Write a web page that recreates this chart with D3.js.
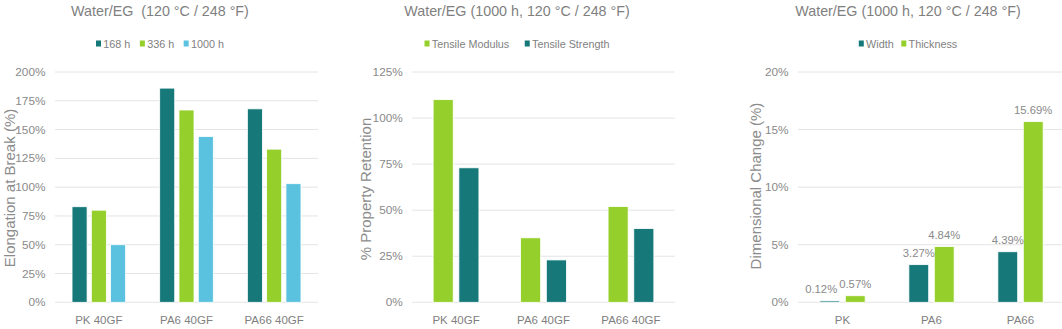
<!DOCTYPE html>
<html>
<head>
<meta charset="utf-8">
<script src="https://cdn.jsdelivr.net/npm/d3@7/dist/d3.min.js"></script>
<style>
  html, body { margin: 0; padding: 0; background: #fff; }
  svg { display: block; font-family: "Liberation Sans", Arial, Helvetica, sans-serif; }
</style>
</head>
<body>
<svg id="chart" width="1062" height="329"></svg>
<script>
// ---- Elongation at break ----
const elongCategories = ["PK 40GF", "PA6 40GF", "PA66 40GF"];
const elongSeries = ["168 h", "336 h", "1000 h"];
const elong168 = [83, 186, 168];
const elong336 = [80, 167, 133];
const elong1000 = [50, 144, 103];
const elongTicks = [0, 25, 50, 75, 100, 125, 150, 175, 200];

// ---- Property retention ----
const retentionCategories = ["PK 40GF", "PA6 40GF", "PA66 40GF"];
const retentionSeries = ["Tensile Modulus", "Tensile Strength"];
const tensileModulus = [110, 35, 52];
const tensileStrength = [73, 23, 40];
const retentionTicks = [0, 25, 50, 75, 100, 125];

// ---- Dimensional change ----
const dimCategories = ["PK", "PA6", "PA66"];
const dimSeries = ["Width", "Thickness"];
const dimWidth = [0.12, 3.27, 4.39];
const dimThickness = [0.57, 4.84, 15.69];
const dimTicks = [0, 5, 10, 15, 20];

const TEAL = "#167878";
const GREEN = "#95cf2b";
const BLUE = "#5ac2de";

const svg = d3.select("#chart");
svg.append("rect").attr("width", 1062).attr("height", 329).attr("fill", "#fff");

function drawPanel(p) {
  const g = svg.append("g");
  const y = d3.scaleLinear().domain(p.domain).range([302.3, 72]);
  const x0 = d3.scaleBand().domain(p.categories).range(p.xRange).padding(0);
  const x1 = d3.scaleBand().domain(p.series).range([0, x0.bandwidth()])
    .paddingInner(0.22).paddingOuter(p.outer);

  // gridlines
  g.selectAll("line.grid").data(p.ticks).join("line")
    .attr("x1", p.xRange[0]).attr("x2", p.xRange[1])
    .attr("y1", d => y(d)).attr("y2", d => y(d))
    .attr("stroke", "#e4e4e4").attr("stroke-width", 1);

  // tick labels
  g.selectAll("text.tick").data(p.ticks).join("text")
    .attr("x", p.xRange[0] - 9.5).attr("y", d => y(d))
    .attr("dy", "0.35em").attr("text-anchor", "end")
    .attr("font-size", 11.8).attr("fill", "#8a8a8a")
    .text(d => d + "%");

  // bars
  const rows = p.categories.map((c, i) => ({
    cat: c,
    vals: p.series.map((s, j) => ({ s, v: p.values[j][i], color: p.colors[j] }))
  }));
  const grp = g.selectAll("g.cat").data(rows).join("g")
    .attr("transform", d => `translate(${x0(d.cat)},0)`);
  grp.selectAll("rect").data(d => d.vals).join("rect")
    .attr("x", d => x1(d.s)).attr("width", x1.bandwidth())
    .attr("y", d => y(d.v)).attr("height", d => y(0) - y(d.v))
    .attr("fill", d => d.color)
    .attr("stroke", "#fff").attr("stroke-width", 0.8);

  // value labels
  if (p.labels) {
    const lab = [];
    rows.forEach(r => r.vals.forEach(v => {
      lab.push({ text: v.v.toFixed(2) + "%", cx: x0(r.cat) + x1(v.s) + x1.bandwidth() / 2, y: y(v.v) - 7.5 });
    }));
    const t = g.selectAll("text.val").data(lab).join("text")
      .attr("font-size", 11.3).attr("fill", "#8a8a8a").attr("text-anchor", "middle")
      .attr("y", d => d.y).text(d => d.text);
    t.each(function (d) { d.w = this.getComputedTextLength(); });
    for (let i = lab.length - 2; i >= 0; i--) {
      const a = lab[i], b = lab[i + 1];
      const overlapX = (a.cx + a.w / 2) - (b.cx - b.w / 2 - 2);
      if (overlapX > 0 && Math.abs(a.y - b.y) < 12) a.cx -= overlapX;
    }
    t.attr("x", d => d.cx);
  }

  // category labels
  g.selectAll("text.cat").data(p.categories).join("text")
    .attr("x", d => x0(d) + x0.bandwidth() / 2).attr("y", 324)
    .attr("text-anchor", "middle").attr("font-size", 11.5).attr("fill", "#7f7f7f")
    .text(d => d);

  // y axis title
  g.append("text")
    .attr("transform", `translate(${p.yTitleX},${p.yTitleY}) rotate(-90)`)
    .attr("text-anchor", "middle").attr("font-size", 15).attr("fill", "#8c8c8c")
    .text(p.yTitle);

  // chart title
  g.append("text").attr("x", p.center).attr("y", 15.5)
    .attr("text-anchor", "middle").attr("font-size", 14.3).attr("fill", "#7f7f7f")
    .style("white-space", "pre").attr("xml:space", "preserve")
    .text(p.title);

  // legend
  const leg = g.append("g");
  let cx = 0;
  p.series.forEach((s, j) => {
    leg.append("rect").attr("x", cx).attr("y", 40.5).attr("width", 5).attr("height", 6)
      .attr("fill", p.colors[j]);
    const tx = leg.append("text").attr("x", cx + 7.3).attr("y", 47.8)
      .attr("font-size", 10.8).attr("fill", "#7f7f7f").text(s);
    cx += 7.3 + tx.node().getComputedTextLength() + p.legendGap;
  });
  const total = cx - p.legendGap;
  leg.attr("transform", `translate(${p.center - total / 2},0)`);
}

drawPanel({
  title: "Water/EG  (120 °C / 248 °F)",
  center: 160,
  categories: elongCategories,
  series: elongSeries,
  values: [elong168, elong336, elong1000],
  colors: [TEAL, GREEN, BLUE],
  domain: [0, 200],
  ticks: elongTicks,
  xRange: [55, 318],
  outer: 0.883,
  legendGap: 9.5,
  yTitle: "Elongation at Break (%)",
  yTitleX: 14.5, yTitleY: 188
});

drawPanel({
  title: "Water/EG (1000 h, 120 °C / 248 °F)",
  center: 517,
  categories: retentionCategories,
  series: retentionSeries,
  values: [tensileModulus, tensileStrength],
  colors: [GREEN, TEAL],
  domain: [0, 125],
  ticks: retentionTicks,
  xRange: [412.3, 674.7],
  outer: 0.81,
  legendGap: 15.5,
  yTitle: "% Property Retention",
  yTitleX: 371, yTitleY: 189
});

drawPanel({
  title: "Water/EG (1000 h, 120 °C / 248 °F)",
  center: 908,
  categories: dimCategories,
  series: dimSeries,
  values: [dimWidth, dimThickness],
  colors: [TEAL, GREEN],
  domain: [0, 20],
  ticks: dimTicks,
  xRange: [798, 1065],
  outer: 0.86,
  legendGap: 7.6,
  labels: true,
  yTitle: "Dimensional Change (%)",
  yTitleX: 761, yTitleY: 186
});
</script>
</body>
</html>
